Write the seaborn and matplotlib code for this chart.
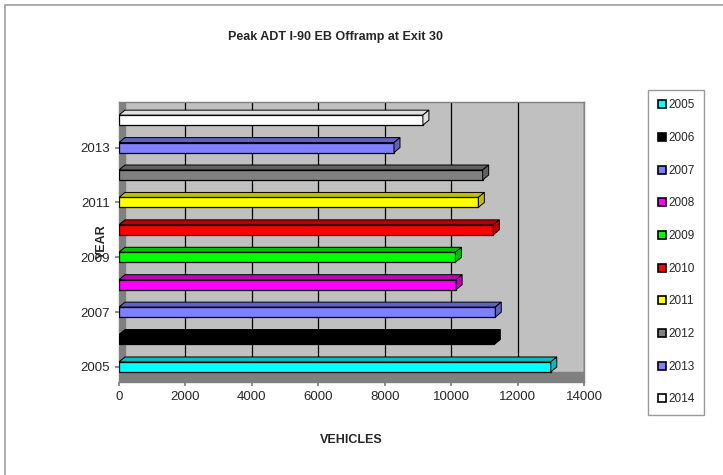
import numpy as np
import pandas as pd
import seaborn as sns
import matplotlib.pyplot as plt
from matplotlib.patches import Polygon, Rectangle
from matplotlib.lines import Line2D
from matplotlib.colors import to_rgb

# values
years = ['2005', '2006', '2007', '2008', '2009', '2010', '2011', '2012', '2013', '2014']
vehicles = [13000, 11300, 11330, 10150, 10130, 11270, 10820, 10950, 8280, 9150]
colors = ['#00FFFF', '#000000', '#8080FF', '#FF00FF', '#00FF00',
          '#FF0000', '#FFFF00', '#808080', '#8080FF', '#FFFFFF']
xticks = [0, 2000, 4000, 6000, 8000, 10000, 12000, 14000]
ytick_labels = ['2005', '2007', '2009', '2011', '2013']

df = pd.DataFrame({'year': years, 'vehicles': vehicles})

sns.set_theme(style='white')
plt.rcParams['font.family'] = ['Liberation Sans', 'DejaVu Sans']

fig = plt.figure(figsize=(7.23, 4.75), dpi=100)
ax = fig.add_axes([119 / 723, 1 - 382 / 475, 465 / 723, 280 / 475])

# figure border (only top and left edges show)
fig.patches.append(Rectangle((5 / 723, -0.1), 1.2, 1 - 5 / 475 + 0.1, transform=fig.transFigure,
                             fill=False, edgecolor='#a0a0a0', linewidth=1.2))

ax.set_facecolor('#c0c0c0')
bar_h = 0.365
sns.barplot(data=df, x='vehicles', y='year', hue='year', palette=colors, dodge=False,
            saturation=1, width=bar_h, edgecolor='black', linewidth=0.9, legend=False,
            ax=ax, zorder=3)

# fake 3D depth on each bar
dx = 180
dy = 0.18
for i, (v, c) in enumerate(zip(vehicles, colors)):
    r, g, b = to_rgb(c)
    dark = (r * 0.75, g * 0.75, b * 0.75) if c != '#FFFFFF' else '#e0e0e0'
    top = Polygon([(0, i + bar_h / 2), (v, i + bar_h / 2), (v + dx, i + bar_h / 2 + dy),
                   (dx, i + bar_h / 2 + dy)], closed=True, facecolor=dark,
                  edgecolor='black', linewidth=0.7, zorder=3)
    side = Polygon([(v, i - bar_h / 2), (v, i + bar_h / 2), (v + dx, i + bar_h / 2 + dy),
                    (v + dx, i - bar_h / 2 + dy)], closed=True, facecolor=dark,
                   edgecolor='black', linewidth=0.7, zorder=3)
    ax.add_patch(top)
    ax.add_patch(side)

# floor strip and left wall
ax.axhspan(-0.55, -0.2, color='#808080', zorder=1)
ax.axvspan(0, dx, color='#808080', zorder=1)

ax.set_xlim(0, 14000)
ax.set_ylim(-0.55, 9.66)
ax.set_xticks(xticks)
ax.set_xticklabels([str(t) for t in xticks], fontsize=9.5)
ax.set_yticks([years.index(y) for y in ytick_labels])
ax.set_yticklabels(ytick_labels, fontsize=9.5)
ax.xaxis.grid(True, color='black', linewidth=0.9, zorder=0)
ax.set_axisbelow(True)
ax.tick_params(axis='both', length=3, color='#808080', left=True, bottom=True)
for s in ax.spines.values():
    s.set_color('#808080')
    s.set_linewidth(1)

ax.set_xlabel('VEHICLES', fontsize=9, fontweight='bold', labelpad=22)
ax.set_ylabel('YEAR', fontsize=9, fontweight='bold', labelpad=-20)
fig.text(336 / 723, 1 - 37 / 475, 'Peak ADT I-90 EB Offramp at Exit 30', ha='center', va='center',
         fontsize=9, fontweight='bold')

handles = [Line2D([], [], marker='s', linestyle='none', markersize=6, markerfacecolor=c,
                  markeredgecolor='black', markeredgewidth=1.2) for c in colors]
leg = fig.legend(handles, years, loc='upper left', bbox_to_anchor=(648 / 723, 1 - 90 / 475),
                 frameon=True, fontsize=8.5, handlelength=0.8, handletextpad=0.1,
                 labelspacing=1.75, borderpad=0.8, fancybox=False, borderaxespad=0)
leg.get_frame().set_edgecolor('#808080')
leg.get_frame().set_linewidth(1)

fig.savefig('out.png', dpi=100)
